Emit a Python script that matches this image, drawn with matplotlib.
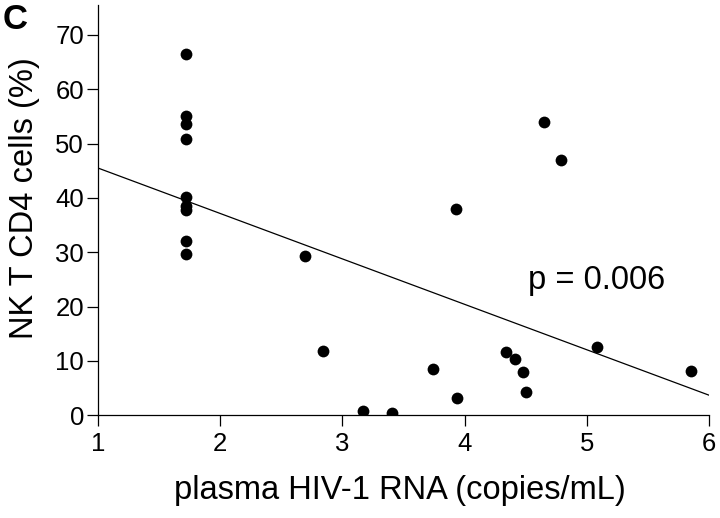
import numpy as np
import matplotlib
matplotlib.use('Agg')
import matplotlib.pyplot as plt

plt.rcParams['font.family'] = ['Liberation Sans', 'DejaVu Sans']

# plasma HIV-1 RNA (log copies/mL) and NK T CD4 cells (%)
hiv_rna = [1.72, 1.72, 1.72, 1.72, 1.72, 1.72, 1.72, 1.72, 1.72,
           2.69, 2.84, 3.17, 3.41, 3.74, 3.93, 3.94, 4.34, 4.41,
           4.48, 4.50, 4.65, 4.79, 5.08, 5.85]
nkt_cd4 = [66.5, 55.1, 53.6, 50.9, 40.2, 38.6, 37.8, 32.1, 29.6,
           29.3, 11.8, 0.8, 0.5, 8.5, 37.9, 3.1, 11.7, 10.4,
           8.0, 4.3, 54.0, 46.9, 12.5, 8.1]

# regression line end points
fit_x = [1, 6]
fit_y = [45.5, 3.7]

p_label = 'p = 0.006'

fig = plt.figure(figsize=(7.2, 5.18), dpi=100)
ax = fig.add_axes([0.1361, 0.1983, 0.8486, 0.792])

ax.scatter(hiv_rna, nkt_cd4, s=72, color='black', zorder=3, linewidths=0)
ax.plot(fit_x, fit_y, color='black', linewidth=0.9)

ax.set_xlim(1, 6)
ax.set_ylim(0, 75.5)
ax.set_xticks(np.arange(1, 7))
ax.set_yticks(np.arange(0, 71, 10))

ax.spines['top'].set_visible(False)
ax.spines['right'].set_visible(False)
ax.spines['left'].set_linewidth(0.9)
ax.spines['bottom'].set_linewidth(0.9)
ax.tick_params(direction='out', length=8, width=0.9, labelsize=18.5)
ax.tick_params(axis='y', pad=2)
ax.tick_params(axis='x', pad=4)

ax.set_xlabel('plasma HIV-1 RNA (copies/mL)', fontsize=23.5)
ax.set_ylabel('NK T CD4 cells (%)', fontsize=23.5)
ax.xaxis.set_label_coords(0.494, -0.145)
ax.yaxis.set_label_coords(-0.095, 0.53)

ax.text(4.52, 23.2, p_label, fontsize=23.5, va='baseline', ha='left')

fig.text(0.003, 0.995, 'C', fontsize=25, fontweight='bold', va='top', ha='left')

fig.savefig('out.png', dpi=100)
